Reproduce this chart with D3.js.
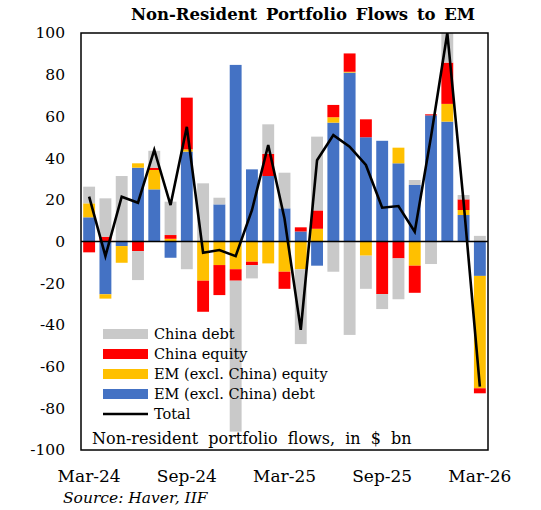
<!DOCTYPE html>
<html>

<head>
    <meta charset="utf-8">
    <script src="https://d3js.org/d3.v7.min.js"></script>
    <style>
        body {
            margin: 0;
            background: white;
        }

        text {
            font-family: "DejaVu Serif", "Liberation Serif", serif;
            fill: black;
        }

        .title {
            font-weight: bold;
            font-size: 16.5px;
        }

        .tick-label {
            font-size: 15.5px;
        }

        .legend-label {
            font-size: 14.5px;
        }

        .source {
            font-style: italic;
            font-size: 15.5px;
        }
    </style>
</head>

<body>
    <script>
        // months on the x axis, one bar per month
        var months = ["Mar-24", "Apr-24", "May-24", "Jun-24", "Jul-24", "Aug-24", "Sep-24", "Oct-24",
            "Nov-24", "Dec-24", "Jan-25", "Feb-25", "Mar-25", "Apr-25", "May-25", "Jun-25", "Jul-25",
            "Aug-25", "Sep-25", "Oct-25", "Nov-25", "Dec-25", "Jan-26", "Feb-26", "Mar-26"];

        var xTickLabels = ["Mar-24", "Sep-24", "Mar-25", "Sep-25", "Mar-26"];
        var yTicks = [100, 80, 60, 40, 20, 0, -20, -40, -60, -80, -100];

        // $ bn
        var emDebt = [11.6, -25.3, -2.2, 35.4, 25, -7.8, 43.1, 0, 17.8, 84.7, 34.6, 31.4, 15.9,
            4.8, -11.6, 57, 81, 50, 48.3, 37.5, 27.1, 60.5, 57.5, 12.7, -16.5];
        var emEquity = [6.7, -2.1, -8.0, 2.1, 9.3, 1.3, 1.1, -18.8, -11.3, -13.3, -9.7, -10.5, -14.5,
            -13.3, 6.1, 2.6, 0.4, -6.8, 0, 7.5, -11.6, 0, 8.5, 2.4, -53.9];
        var chinaEquity = [-5.2, 2.3, 0, -4.6, 1.1, 1.8, 24.8, -14.9, -14.4, -5.5, -1.6, 10.6, -8.2,
            2.0, 8.8, 5.9, 8.8, 8.6, -25.2, -8.1, -13, 0.5, 19.8, 5.1, -2.4];
        var chinaDebt = [8.0, 18.4, 31.4, -13.9, 8.1, 16, -13.3, 27.9, 3.2, -72.4, -6.4, 14.2, 17.1,
            -35.9, 35.4, -14.5, -44.8, -15.9, -7.2, -19.6, 2.4, -10.8, 14.5, 2.1, 2.7];
        var total = [21.5, -7, 21.5, 18.6, 43.9, 17.5, 55, -5.4, -4.1, -7, 15, 46.3, 11,
            -42.4, 39, 51, 45.5, 36.7, 16.2, 17, 4.7, 50.3, 100, 19, -69.6];

        // stacking order from zero outwards
        var seriesKeys = ["emDebt", "emEquity", "chinaEquity", "chinaDebt"];
        var colors = {
            emDebt: "#4472C4",
            emEquity: "#FFC000",
            chinaEquity: "#FF0000",
            chinaDebt: "#C9C9C9"
        };
        var legendItems = [
            { key: "chinaDebt", label: "China debt" },
            { key: "chinaEquity", label: "China equity" },
            { key: "emEquity", label: "EM (excl. China) equity" },
            { key: "emDebt", label: "EM (excl. China) debt" },
            { key: "total", label: "Total" }
        ];

        var table = months.map(function (m, i) {
            return {
                month: m,
                emDebt: emDebt[i],
                emEquity: emEquity[i],
                chinaEquity: chinaEquity[i],
                chinaDebt: chinaDebt[i],
                total: total[i]
            };
        });

        var width = 541, height = 510;
        var plot = { left: 81, right: 488, top: 33, bottom: 450 };

        var svg = d3.select("body").append("svg")
            .attr("width", width).attr("height", height);

        var x = d3.scaleBand()
            .domain(months)
            .range([plot.left, plot.right])
            .paddingInner(0.27)
            .paddingOuter(0.135);

        var y = d3.scaleLinear()
            .domain([-100, 100])
            .range([plot.bottom, plot.top]);

        svg.append("clipPath").attr("id", "plot-clip")
            .append("rect")
            .attr("x", plot.left).attr("y", plot.top)
            .attr("width", plot.right - plot.left)
            .attr("height", plot.bottom - plot.top);

        var stacked = d3.stack()
            .keys(seriesKeys)
            .offset(d3.stackOffsetDiverging)(table);

        // bars
        var barsG = svg.append("g").attr("clip-path", "url(#plot-clip)");
        barsG.selectAll("g")
            .data(stacked)
            .enter().append("g")
            .attr("fill", function (s) { return colors[s.key]; })
            .selectAll("rect")
            .data(function (s) { return s; })
            .enter().append("rect")
            .attr("x", function (d) { return x(d.data.month); })
            .attr("width", x.bandwidth())
            .attr("y", function (d) { return y(Math.max(d[0], d[1])); })
            .attr("height", function (d) { return Math.abs(y(d[0]) - y(d[1])); });

        // zero line
        svg.append("line")
            .attr("x1", plot.left).attr("x2", plot.right)
            .attr("y1", y(0)).attr("y2", y(0))
            .attr("stroke", "black").attr("stroke-width", 1.5);

        // total line
        var line = d3.line()
            .x(function (d) { return x(d.month) + x.bandwidth() / 2; })
            .y(function (d) { return y(d.total); });

        svg.append("path")
            .datum(table)
            .attr("clip-path", "url(#plot-clip)")
            .attr("d", line)
            .attr("fill", "none")
            .attr("stroke", "black")
            .attr("stroke-width", 2.6)
            .attr("stroke-linejoin", "miter");

        // frame
        svg.append("rect")
            .attr("x", plot.left).attr("y", plot.top)
            .attr("width", plot.right - plot.left)
            .attr("height", plot.bottom - plot.top)
            .attr("fill", "none")
            .attr("stroke", "black")
            .attr("stroke-width", 1.5);

        // y axis, labels only
        var yAxis = d3.axisLeft(y)
            .tickValues(yTicks)
            .tickSize(0)
            .tickPadding(16)
            .tickFormat(function (d) { return String(d).replace("\u2212", "-"); });
        var yG = svg.append("g")
            .attr("transform", "translate(" + plot.left + ",0)")
            .call(yAxis);
        yG.select(".domain").remove();
        yG.selectAll("text").attr("class", "tick-label").attr("font-family", null).attr("font-size", null);

        // x axis, labels only
        var xAxis = d3.axisBottom(x)
            .tickValues(xTickLabels)
            .tickSize(0)
            .tickPadding(20);
        var xG = svg.append("g")
            .attr("transform", "translate(0," + plot.bottom + ")")
            .call(xAxis);
        xG.select(".domain").remove();
        xG.selectAll("text").attr("class", "tick-label").attr("font-family", null).attr("font-size", null)
            .style("font-size", "17px");

        // title
        svg.append("text")
            .attr("class", "title")
            .attr("x", 303).attr("y", 20)
            .attr("text-anchor", "middle")
            .attr("word-spacing", "3px")
            .text("Non-Resident Portfolio Flows to EM");

        // legend
        var legend = svg.append("g");
        var rows = legend.selectAll("g")
            .data(legendItems)
            .enter().append("g")
            .attr("transform", function (d, i) { return "translate(103," + (334 + i * 20) + ")"; });

        rows.filter(function (d) { return d.key != "total"; })
            .append("rect")
            .attr("x", 0).attr("y", -5)
            .attr("width", 45).attr("height", 10)
            .attr("fill", function (d) { return colors[d.key]; });

        rows.filter(function (d) { return d.key == "total"; })
            .append("line")
            .attr("x1", 0).attr("x2", 45)
            .attr("stroke", "black").attr("stroke-width", 2.6);

        rows.append("text")
            .attr("class", "legend-label")
            .attr("x", 51).attr("y", 5)
            .text(function (d) { return d.label; });

        svg.append("text")
            .attr("class", "legend-label")
            .attr("x", 92).attr("y", 444)
            .attr("word-spacing", "5px")
            .style("font-size", "16px")
            .text("Non-resident portfolio flows, in $ bn");

        svg.append("text")
            .attr("class", "source")
            .attr("x", 63).attr("y", 503)
            .text("Source: Haver, IIF");
    </script>
</body>

</html>
